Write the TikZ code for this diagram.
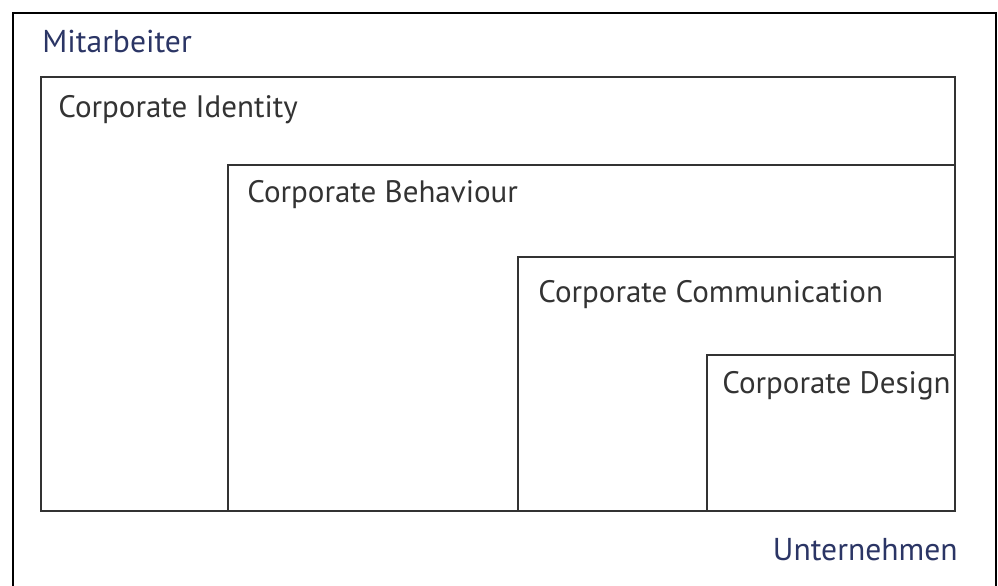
\documentclass[tikz,border=0pt]{standalone}
\usepackage{fontspec}
\setmainfont{PT Sans}
\usepackage{tikz}
\definecolor{headblue}{HTML}{2B3565}
\definecolor{boxgray}{HTML}{333333}
\tikzset{
    level/.style={draw=boxgray, line width=1.4pt},
    levellabel/.style={anchor=base west, inner sep=0pt, text=boxgray, font=\fontsize{15.5}{18}\selectfont},
    axislabel/.style={inner sep=0pt, text=headblue, font=\fontsize{15.8}{18}\selectfont}
}

\begin{document}
\begin{tikzpicture}[x=0.5pt, y=-0.5pt]
    \useasboundingbox (0,0) rectangle (998,585);

    % outer frame, open at the bottom
    \draw[line width=1.3pt] (13,600) -- (13,13) -- (996,13) -- (996,600);

    % nested levels
    \draw[level] (41,77) rectangle (955,511);
    \draw[level] (228,165) rectangle (955,511);
    \draw[level] (518,257) rectangle (955,511);
    \draw[level] (707,355) rectangle (955,511);

    \node[levellabel] (CI) at (58,117) {Corporate Identity};
    \node[levellabel] (CB) at (247,202) {Corporate Behaviour};
    \node[levellabel] (CC) at (538,302) {Corporate Communication};
    \node[levellabel] (CD) at (722,393) {Corporate Design};

    \node[axislabel, anchor=base west] (M) at (42,52) {Mitarbeiter};
    \node[axislabel, anchor=base east] (U) at (958,560) {Unternehmen};
\end{tikzpicture}
\end{document}
